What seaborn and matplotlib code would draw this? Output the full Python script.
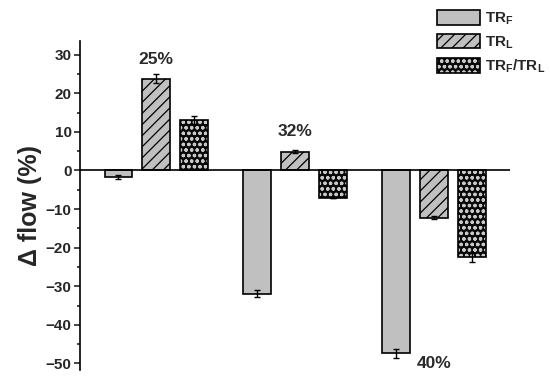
import matplotlib
matplotlib.use("Agg")
import matplotlib.pyplot as plt
import seaborn as sns
import pandas as pd
import numpy as np
from matplotlib.patches import Rectangle
from matplotlib.legend_handler import HandlerPatch

groups = ["25%", "32%", "40%"]
series = ["TR_F", "TR_L", "TR_F/TR_L"]
tr_f = [-1.7, -31.9, -47.4]
tr_l = [23.8, 4.8, -12.2]
tr_fl = [13.0, -7.1, -22.5]
err_f = [0.4, 1.0, 1.2]
err_l = [1.1, 0.4, 0.5]
err_fl = [1.0, 0.0, 1.2]
label_y = [28.7, 10.1, -50.1]
legend_labels = [r"$\mathbf{TR_F}$", r"$\mathbf{TR_L}$", r"$\mathbf{TR_F/TR_L}$"]

sns.set_theme(style="white")
plt.rcParams['font.family'] = ['Liberation Sans', 'DejaVu Sans']
plt.rcParams['mathtext.fontset'] = 'custom'
plt.rcParams['mathtext.bf'] = 'Liberation Sans:bold'
plt.rcParams['mathtext.rm'] = 'Liberation Sans'
plt.rcParams['hatch.linewidth'] = 0.9

df = pd.DataFrame({
    "group": np.repeat(groups, 3),
    "series": series * 3,
    "value": [v for trip in zip(tr_f, tr_l, tr_fl) for v in trip],
    "err": [v for trip in zip(err_f, err_l, err_fl) for v in trip],
})

fig = plt.figure(figsize=(5.5, 3.81), dpi=100)
ax = fig.add_axes([0.1455, 0.03, 0.782, 0.862])
sns.barplot(data=df, x="group", y="value", hue="series", hue_order=series,
            order=groups, ax=ax, width=0.82, errorbar=None, legend=False,
            gap=0.27)

styles = {
    "TR_F": dict(fc="#c0c0c0", hatch=None, hc="black"),
    "TR_L": dict(fc="#c0c0c0", hatch="///", hc="black"),
    "TR_F/TR_L": dict(fc="#0a0a0a", hatch="ooo", hc="#c8c8c8"),
}

handles = []
for si, (s, cont) in enumerate(zip(series, ax.containers)):
    st = styles[s]
    errs = [err_f, err_l, err_fl][si]
    xs, ys = [], []
    for gi, p in enumerate(cont.patches):
        p.set_facecolor(st["fc"])
        p.set_linewidth(0)
        if st["hatch"]:
            p.set_hatch(st["hatch"])
            p.set_edgecolor(st["hc"])
        r = Rectangle((p.get_x(), p.get_y()), p.get_width(), p.get_height(),
                      fill=False, edgecolor="black", linewidth=1.2, zorder=p.get_zorder() + 0.1)
        ax.add_patch(r)
        xs.append(p.get_x() + p.get_width() / 2)
        ys.append(p.get_y() + p.get_height())
    ax.errorbar(xs, ys, yerr=errs, fmt="none", ecolor="black", elinewidth=1,
                capsize=2.5, capthick=1, zorder=5)
    h = Rectangle((0, 0), 1, 1, facecolor=st["fc"], hatch=st["hatch"],
                  edgecolor=st["hc"] if st["hatch"] else "black", linewidth=0)
    handles.append(h)

for gi, (g, yv) in enumerate(zip(groups, label_y)):
    ax.text(gi, yv, g, ha="center", va="center", fontsize=12.5, fontweight="bold",
            color="#2a2a2a")

ax.axhline(0, color="black", linewidth=1.2, zorder=6)
ax.set_xlim(-0.55, 2.55)
ax.set_ylim(-51.6, 33.5)
ax.set_yticks(np.arange(-50, 31, 10))
ax.set_yticks(np.arange(-45, 31, 10), minor=True)
ax.tick_params(axis="y", which="major", direction="out", length=4, width=1.2,
               left=True, labelsize=11, pad=2)
ax.tick_params(axis="y", which="minor", direction="out", length=2.5, width=1.2, left=True)
for lab in ax.get_yticklabels():
    lab.set_fontweight("bold")
ax.set_xticks([])
ax.set_xlabel("")
ax.set_ylabel("Δ flow (%)", fontsize=18, fontweight="bold", labelpad=3)
for sp in ["top", "right", "bottom"]:
    ax.spines[sp].set_visible(False)
ax.spines["left"].set_linewidth(1.2)
ax.spines["left"].set_color("black")


class OutlinedHandler(HandlerPatch):
    def create_artists(self, legend, orig_handle, xdescent, ydescent, width, height, fontsize, trans):
        fill = Rectangle((-xdescent, -ydescent), width, height,
                         facecolor=orig_handle.get_facecolor(), hatch=orig_handle.get_hatch(),
                         edgecolor=orig_handle.get_edgecolor(), linewidth=0, transform=trans)
        outline = Rectangle((-xdescent, -ydescent), width, height, fill=False,
                            edgecolor="black", linewidth=1.2, transform=trans)
        return [fill, outline]


fig.legend(handles, legend_labels, loc="upper left", bbox_to_anchor=(0.77, 1.01),
           frameon=False, fontsize=11, handlelength=2.8, handleheight=1.1,
           labelspacing=0.45, handletextpad=0.35,
           handler_map={Rectangle: OutlinedHandler()})

fig.savefig("out.png", dpi=100)
